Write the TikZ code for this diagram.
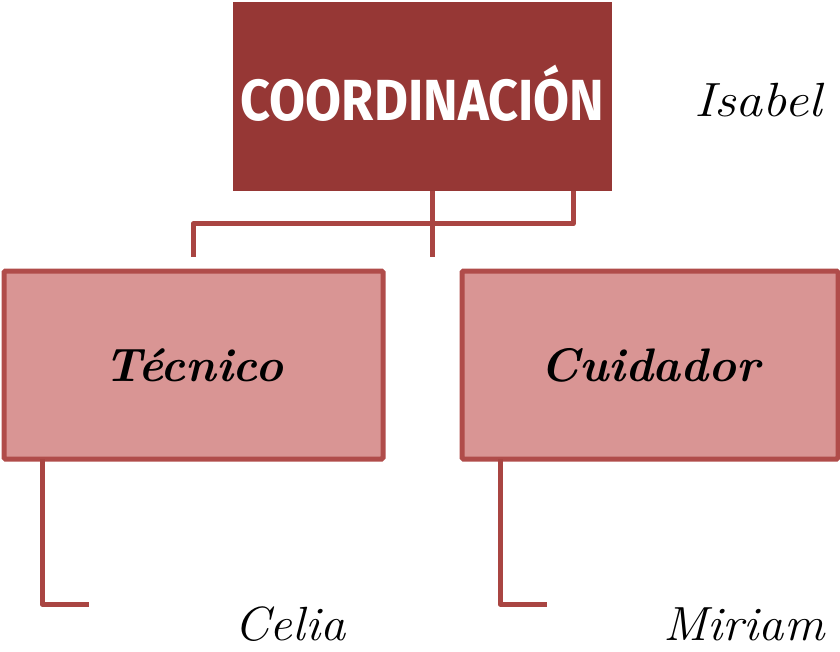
\documentclass[tikz,border=0pt]{standalone}
\usepackage{fontspec}
\newfontfamily\headfont{Fira Sans}
\definecolor{coordfill}{HTML}{963735}
\definecolor{boxfill}{HTML}{D99594}
\definecolor{boxline}{HTML}{B04C4A}
\definecolor{linkcol}{HTML}{A94542}
\begin{document}
\begin{tikzpicture}[x=1pt,y=-1pt,
  head/.style={fill=coordfill, draw=none, inner sep=0pt, minimum width=379pt, minimum height=189pt,
    font=\headfont\bfseries\fontsize{58}{62}\selectfont, text=white},
  sub/.style={fill=boxfill, draw=boxline, line width=5pt, rounded corners=1.5pt, inner sep=0pt,
    minimum height=188pt, font=\bfseries\itshape\fontsize{47}{50}\selectfont},
  personname/.style={font=\itshape\fontsize{48}{52}\selectfont, inner sep=0pt},
  link/.style={draw=linkcol, line width=5pt, line join=round}]
\useasboundingbox (0,0) rectangle (840,652);
\node[head] (coord) at (422.5,96.5) {\raisebox{7pt}{\scalebox{0.9}[1]{COORDINACIÓN}}};
\node[sub, minimum width=379pt] (tec) at (193.5,365) {Técnico};
\node[sub, minimum width=376pt] (cui) at (650,365) {Cuidador};
\node[personname] (isabel) at (758,100) {\scalebox{1.12}[1]{Isabel}};
\node[personname] (celia) at (290,624) {\scalebox{1.05}[1]{Celia}};
\node[personname] (miriam) at (744,624) {\scalebox{1.05}[1]{Miriam}};
% top bracket
\coordinate (rk) at (573,224);
\coordinate (lk) at (193,224);
\coordinate (le) at (193,257);
\coordinate (me) at (432,257);
\draw[link] (coord.south -| rk) -- (rk) -- (lk) -- (le);
\draw[link] (coord.south -| me) -- (me);
% child connectors
\coordinate (c1) at (42,604);
\coordinate (c1e) at (89,604);
\coordinate (c2) at (500,604);
\coordinate (c2e) at (547,604);
\draw[link] ([yshift=2.5pt]tec.south -| c1) -- (c1) -- (c1e);
\draw[link] ([yshift=2.5pt]cui.south -| c2) -- (c2) -- (c2e);
\end{tikzpicture}
\end{document}
